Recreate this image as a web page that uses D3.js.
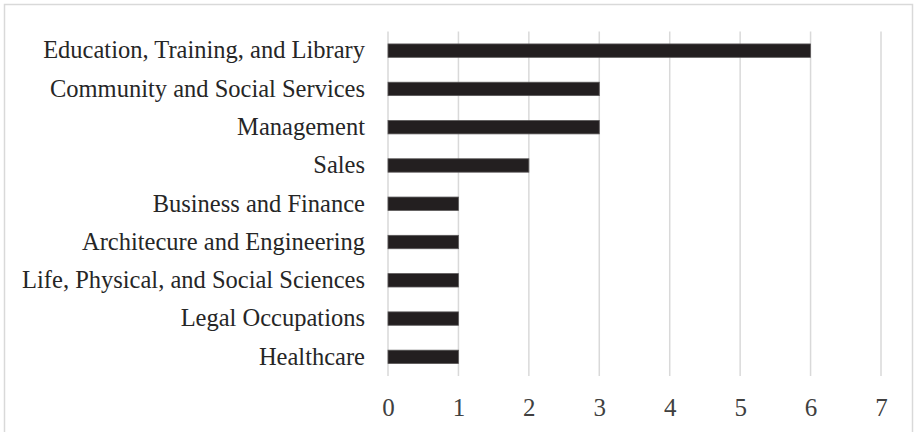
<!DOCTYPE html>
<html>
<head>
<meta charset="utf-8">
<script src="https://cdn.jsdelivr.net/npm/d3@7"></script>
<style>
  body { margin: 0; background: #fff; }
  text { font-family: "Liberation Serif", "Times New Roman", serif; }
</style>
</head>
<body>
<div id="chart"></div>
<script>
"use strict";

// data, top to bottom
const categories = [
  "Education, Training, and Library",
  "Community and Social Services",
  "Management",
  "Sales",
  "Business and Finance",
  "Architecure and Engineering",
  "Life, Physical, and Social Sciences",
  "Legal Occupations",
  "Healthcare"
];
const counts = [6, 3, 3, 2, 1, 1, 1, 1, 1];
const xTicks = [0, 1, 2, 3, 4, 5, 6, 7];

const W = 914, H = 432;
const margin = { left: 388, top: 31.5, right: 33, bottom: 56 };

const svg = d3.select("#chart")
  .append("svg")
    .attr("width", W)
    .attr("height", H);

// chart border
svg.append("rect")
  .attr("x", 4.5)
  .attr("y", 4.5)
  .attr("width", W - 6)
  .attr("height", H + 10)
  .attr("fill", "none")
  .attr("stroke", "#d9d9d9")
  .attr("stroke-width", 1.5);

const x = d3.scaleLinear().domain([0, 7]).range([margin.left, W - margin.right]);
const y = d3.scaleBand()
  .domain(categories)
  .range([margin.top, H - margin.bottom])
  .paddingInner(0.65)
  .paddingOuter(0.325);

// vertical gridlines
svg.append("g")
  .selectAll("line")
  .data(xTicks)
  .join("line")
    .attr("x1", d => x(d))
    .attr("x2", d => x(d))
    .attr("y1", margin.top)
    .attr("y2", H - margin.bottom)
    .attr("stroke", "#d9d9d9")
    .attr("stroke-width", 1.5);

// bars
svg.append("g")
  .selectAll("rect")
  .data(categories)
  .join("rect")
    .attr("x", x(0))
    .attr("y", d => y(d))
    .attr("width", (d, i) => x(counts[i]) - x(0))
    .attr("height", y.bandwidth())
    .attr("fill", "#231f20")
    .attr("stroke", "#5a5758")
    .attr("stroke-width", 0.8);

// x axis labels
const xAxis = svg.append("g")
  .attr("transform", "translate(0," + (H - margin.bottom) + ")")
  .call(d3.axisBottom(x).tickValues(xTicks).tickFormat(d3.format("d")).tickSize(0).tickPadding(22));
xAxis.select(".domain").remove();
xAxis.selectAll("text")
  .attr("fill", "#404040")
  .style("font-size", "25px")
  .style("font-family", "'Liberation Serif', serif");

// category labels
const yAxis = svg.append("g")
  .attr("transform", "translate(" + margin.left + ",0)")
  .call(d3.axisLeft(y).tickSize(0).tickPadding(23));
yAxis.select(".domain").remove();
yAxis.selectAll("text")
  .attr("fill", "#262626")
  .style("font-size", "24.5px")
  .style("font-family", "'Liberation Serif', serif");
</script>
</body>
</html>
